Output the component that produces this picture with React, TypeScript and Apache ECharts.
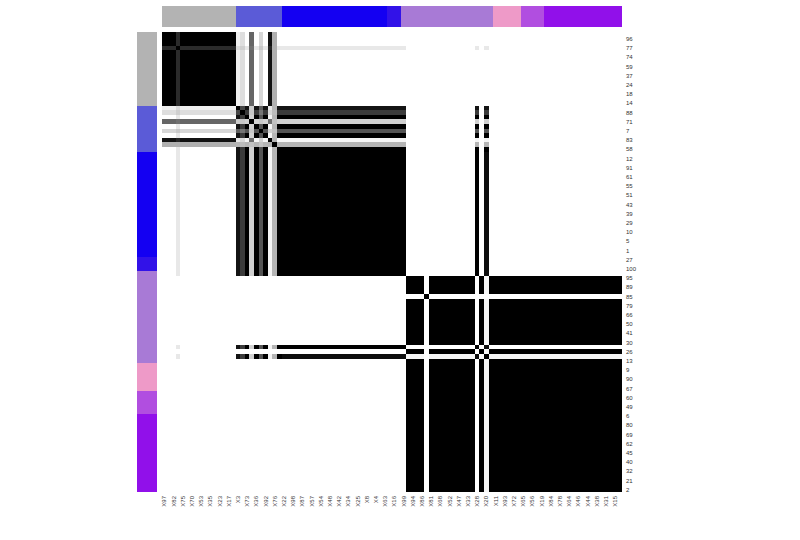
import React, { useEffect, useRef } from 'react';
import * as echarts from 'echarts';

// Item order (same for rows top->bottom and columns left->right)
const ITEMS = [97, 96, 82, 77, 75, 74, 70, 59, 53, 37, 35, 24, 23, 18, 17, 14,
  3, 88, 73, 71, 36, 7, 92, 83, 76, 58,
  22, 12, 98, 91, 87, 61, 57, 55, 54, 51, 48, 43, 42, 39, 34, 29, 25, 10, 8, 5, 4, 1, 63,
  27, 16, 100,
  99, 95, 94, 89, 86, 85, 81, 79, 68, 66, 52, 50, 47, 41, 33, 30, 28, 26, 20, 13,
  11, 9, 93, 90, 72, 67,
  65, 60, 56, 49, 19,
  6, 84, 80, 78, 69, 64, 62, 46, 45, 44, 40, 38, 32, 31, 21, 15, 2];

const COL_LABELS = ITEMS.map((n) => 'X' + n);
const ROW_LABELS = ITEMS.map((n) => String(n));

// Annotation bar groups (consecutive sizes along the order) and colours
const GROUP_SIZES = [16, 10, 23, 3, 20, 6, 5, 17];
const GROUP_COLORS = ['#b3b3b3', '#5b5bd7', '#1400f2', '#3212e8', '#a87ad6', '#ee9ac8', '#b14ee0', '#9110ea'];

// Row patterns of the consensus matrix, as [value, run length]
const ROW_GRAY = [[1, 3], [0.83, 1], [1, 12], [0.06, 1], [0.13, 1], [0, 1], [0.6, 1], [0, 1], [0.16, 1], [0, 1], [0.93, 1], [0.31, 1], [0, 75]];
const ROW_77 = [[0.83, 3], [1, 1], [0.83, 12], [0.14, 1], [0.19, 1], [0.09, 1], [0.56, 1], [0.09, 1], [0.21, 1], [0.09, 1], [0.85, 1], [0.31, 1], [0.09, 28], [0, 15], [0.09, 1], [0, 1], [0.09, 1], [0, 29]];
const ROW_S0 = [[0.06, 3], [0.14, 1], [0.06, 12], [1, 1], [0.72, 1], [0.92, 1], [0.2, 1], [0.92, 1], [0.63, 1], [0.92, 1], [0.09, 1], [0.29, 1], [0.92, 1], [0.92, 27], [0, 15], [0.92, 1], [0, 1], [0.92, 1], [0, 29]];
const ROW_S1 = [[0.13, 3], [0.19, 1], [0.13, 12], [0.72, 1], [1, 1], [0.77, 1], [0.22, 1], [0.77, 1], [0.54, 1], [0.77, 1], [0.15, 1], [0.26, 1], [0.77, 1], [0.77, 27], [0, 15], [0.77, 1], [0, 1], [0.77, 1], [0, 29]];
const ROW_S2 = [[0, 3], [0.09, 1], [0, 12], [0.92, 1], [0.77, 1], [1, 1], [0.18, 1], [1, 1], [0.67, 1], [1, 1], [0.04, 1], [0.29, 1], [1, 1], [1, 27], [0, 15], [1, 1], [0, 1], [1, 1], [0, 29]];
const ROW_S3 = [[0.6, 3], [0.56, 1], [0.6, 12], [0.2, 1], [0.22, 1], [0.18, 1], [1, 1], [0.18, 1], [0.22, 1], [0.18, 1], [0.57, 1], [0.24, 1], [0.18, 1], [0.18, 27], [0, 15], [0.18, 1], [0, 1], [0.18, 1], [0, 29]];
const ROW_S5 = [[0.16, 3], [0.21, 1], [0.16, 12], [0.63, 1], [0.54, 1], [0.67, 1], [0.22, 1], [0.67, 1], [1, 1], [0.67, 1], [0.18, 1], [0.24, 1], [0.67, 1], [0.67, 27], [0, 15], [0.67, 1], [0, 1], [0.67, 1], [0, 29]];
const ROW_S7 = [[0.93, 3], [0.85, 1], [0.93, 12], [0.09, 1], [0.15, 1], [0.04, 1], [0.57, 1], [0.04, 1], [0.18, 1], [0.04, 1], [1, 1], [0.3, 1], [0.04, 1], [0.04, 27], [0, 15], [0.04, 1], [0, 1], [0.04, 1], [0, 29]];
const ROW_S8 = [[0.31, 3], [0.31, 1], [0.31, 12], [0.29, 1], [0.26, 1], [0.29, 1], [0.24, 1], [0.29, 1], [0.24, 1], [0.29, 1], [0.3, 1], [1, 1], [0.29, 1], [0.29, 27], [0, 15], [0.29, 1], [0, 1], [0.29, 1], [0, 29]];
const ROW_BLUE = [[0, 3], [0.09, 1], [0, 12], [0.92, 1], [0.77, 1], [1, 1], [0.18, 1], [1, 1], [0.67, 1], [1, 1], [0.04, 1], [0.29, 1], [1, 28], [0, 15], [1, 1], [0, 1], [0.95, 1], [0, 29]];
const ROW_20 = [[0, 3], [0.09, 1], [0, 12], [0.92, 1], [0.77, 1], [1, 1], [0.18, 1], [1, 1], [0.67, 1], [1, 1], [0.04, 1], [0.29, 1], [1, 1], [0.95, 27], [0.03, 4], [0, 1], [0.03, 10], [0.95, 1], [0, 1], [1, 1], [0.03, 29]];
const ROW_PURPLE = [[0, 53], [1, 4], [0, 1], [1, 10], [0, 1], [1, 1], [0.03, 1], [1, 29]];
const ROW_85 = [[0, 57], [1, 1], [0, 42]];

const PATTERNS: Record<string, number[][]> = {
  G: ROW_GRAY, H: ROW_77, '0': ROW_S0, '1': ROW_S1, '2': ROW_S2, '3': ROW_S3, '4': ROW_S2,
  '5': ROW_S5, '6': ROW_S2, '7': ROW_S7, '8': ROW_S8, '9': ROW_S2,
  B: ROW_BLUE, T: ROW_20, P: ROW_PURPLE, Q: ROW_85,
};

// Which pattern each row (top -> bottom) uses
const ROW_KIND = ['GGG', 'H', 'G'.repeat(12), '0123456789', 'B'.repeat(27), 'PPPP', 'Q', 'P'.repeat(10), 'B', 'P', 'T', 'P'.repeat(29)].join('');

function expand(runs: number[][]): number[] {
  const out: number[] = [];
  runs.forEach(([v, n]) => { for (let k = 0; k < n; k++) out.push(v); });
  return out;
}

function grayOf(v: number): string {
  const g = Math.round(255 * (1 - v));
  return `rgb(${g},${g},${g})`;
}

function cellRenderer(colorFn: (v: number) => string) {
  return (_params: any, api: any) => {
    const p = api.coord([api.value(0), api.value(1)]);
    const s = api.size([1, 1]);
    const x0 = Math.round(p[0] - s[0] / 2);
    const x1 = Math.round(p[0] + s[0] / 2);
    const y0 = Math.round(p[1] - s[1] / 2);
    const y1 = Math.round(p[1] + s[1] / 2);
    return {
      type: 'rect',
      shape: { x: x0, y: y0, width: x1 - x0, height: y1 - y0 },
      style: { fill: colorFn(api.value(2)) },
    };
  };
}

export default function App() {
  const ref = useRef<HTMLDivElement>(null);
  useEffect(() => {
    if (!ref.current) return;
    const chart = echarts.init(ref.current, undefined, { renderer: 'svg' });

    const mainData: number[][] = [];
    for (let r = 0; r < ITEMS.length; r++) {
      const vals = expand(PATTERNS[ROW_KIND[r]]);
      for (let c = 0; c < ITEMS.length; c++) mainData.push([c, r, vals[c]]);
    }
    const groupOf: number[] = [];
    GROUP_SIZES.forEach((s, g) => { for (let k = 0; k < s; k++) groupOf.push(g); });
    const topData = groupOf.map((g, i) => [i, 0, g]);
    const leftData = groupOf.map((g, i) => [0, i, g]);

    const labelFont = 'Liberation Sans, Arial, sans-serif';
    chart.setOption({
      animation: false,
      grid: [
        { left: 162, top: 32, width: 460, height: 460 },
        { left: 162, top: 6, width: 460, height: 21 },
        { left: 137, top: 32, width: 20, height: 460 },
      ],
      xAxis: [
        {
          type: 'category', gridIndex: 0, data: COL_LABELS,
          axisLine: { show: false }, axisTick: { show: false }, splitLine: { show: false },
          axisLabel: { rotate: 90, fontSize: 6, color: '#333', fontFamily: labelFont, margin: 4, interval: (i: number) => i % 2 === 0 },
        },
        { type: 'category', gridIndex: 1, data: COL_LABELS, show: false },
        { type: 'category', gridIndex: 2, data: ['c'], show: false },
      ],
      yAxis: [
        {
          type: 'category', gridIndex: 0, data: ROW_LABELS, inverse: true, position: 'right',
          axisLine: { show: false }, axisTick: { show: false }, splitLine: { show: false },
          axisLabel: { fontSize: 6, color: '#333', fontFamily: labelFont, margin: 4, interval: (i: number) => i % 2 === 1 },
        },
        { type: 'category', gridIndex: 1, data: ['c'], show: false },
        { type: 'category', gridIndex: 2, data: ROW_LABELS, inverse: true, show: false },
      ],
      series: [
        { type: 'custom', xAxisIndex: 0, yAxisIndex: 0, data: mainData, silent: true, encode: { x: 0, y: 1 }, renderItem: cellRenderer(grayOf) },
        { type: 'custom', xAxisIndex: 1, yAxisIndex: 1, data: topData, silent: true, encode: { x: 0, y: 1 }, renderItem: cellRenderer((g) => GROUP_COLORS[g]) },
        { type: 'custom', xAxisIndex: 2, yAxisIndex: 2, data: leftData, silent: true, encode: { x: 0, y: 1 }, renderItem: cellRenderer((g) => GROUP_COLORS[g]) },
      ],
    });
    return () => chart.dispose();
  }, []);
  return <div ref={ref} style={{ position: 'absolute', left: 0, top: 0, width: 800, height: 540 }} />;
}
